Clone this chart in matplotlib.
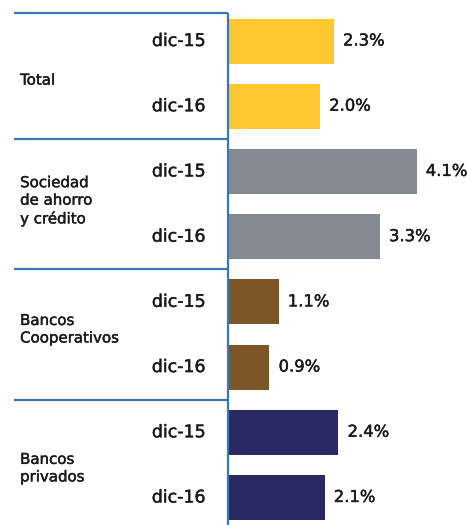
import matplotlib.pyplot as plt
import matplotlib.patheffects as pe

# morosidad por tipo de entidad, dic-15 vs dic-16
grupos = ["Total", "Sociedad\nde ahorro\ny crédito", "Bancos\nCooperativos", "Bancos\nprivados"]
periodos = ["dic-15", "dic-16"]
valores = [2.3, 2.0, 4.1, 3.3, 1.1, 0.9, 2.4, 2.1]
colores = ["#FFC82E", "#858A92", "#7B5627", "#2A2963"]

azul = "#3A78B0"
texto = "#1a1a1a"
# trazo fino para dar peso medio al texto
grueso = [pe.withStroke(linewidth=0.3, foreground=texto)]

fig = plt.figure(figsize=(4.67, 5.25), dpi=100)
ax = fig.add_axes([0, 0, 1, 1])
ax.set_xlim(-228 / 46, (467 - 228) / 46)
ax.set_ylim(7.422, -0.629)
ax.axis("off")

pos = list(range(len(valores)))
col_barras = [colores[i // 2] for i in pos]
ax.barh(pos, valores, height=0.69, color=col_barras, zorder=2)

for i, v in enumerate(valores):
    ax.text(v + 0.2, i, f"{v:.1f}%", va="center", ha="left",
            fontsize=11.8, color=texto, path_effects=grueso)
    ax.text(-0.48, i, periodos[i % 2], va="center", ha="right",
            fontsize=12.5, color=texto, path_effects=grueso)

# lineas separadoras de grupos
for y in [-0.43, 1.5, 3.5, 5.5]:
    ax.plot([-4.65, 0], [y, y], color=azul, lw=1.6, solid_capstyle="butt", zorder=3)
ax.plot([0, 0], [-0.43, 7.422], color=azul, lw=1.6, solid_capstyle="butt", zorder=3)

y_grupos = [0.6, 2.45, 4.42, 6.55]
for g, y in zip(grupos, y_grupos):
    ax.text(-4.52, y, g, va="center", ha="left", fontsize=10.8,
            color=texto, linespacing=1.21, path_effects=grueso)

fig.savefig("out.png", dpi=100)
